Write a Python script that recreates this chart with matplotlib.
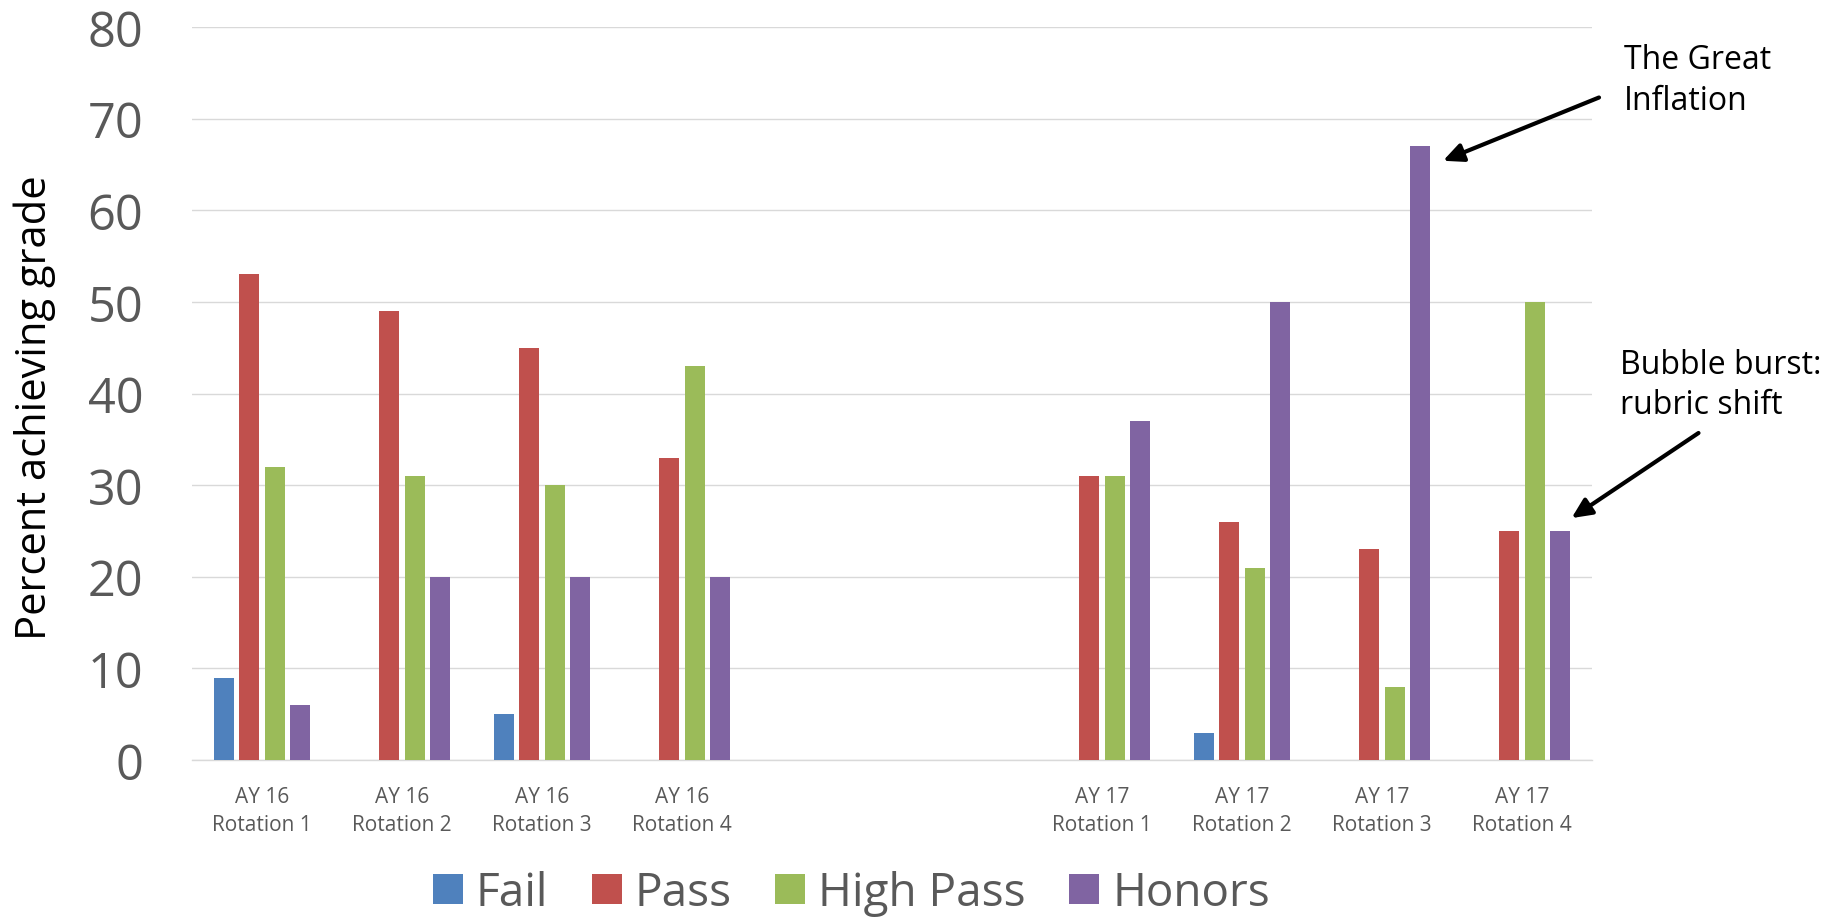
import numpy as np
import matplotlib
matplotlib.use("Agg")
import matplotlib.pyplot as plt
from matplotlib.patches import Patch

plt.rcParams['font.family'] = ['Open Sans', 'DejaVu Sans']

categories = ["AY 16\nRotation 1", "AY 16\nRotation 2", "AY 16\nRotation 3", "AY 16\nRotation 4",
              "", "",
              "AY 17\nRotation 1", "AY 17\nRotation 2", "AY 17\nRotation 3", "AY 17\nRotation 4"]
series_names = ["Fail", "Pass", "High Pass", "Honors"]
fail      = [9, 0, 5, 0, 0, 0, 0, 3, 0, 0]
pass_     = [53, 49, 45, 33, 0, 0, 31, 26, 23, 25]
high_pass = [32, 31, 30, 43, 0, 0, 31, 21, 8, 50]
honors    = [6, 20, 20, 20, 0, 0, 37, 50, 67, 25]
colors = ["#4F81BD", "#C0504D", "#9BBB59", "#8064A2"]
yticks = [0, 10, 20, 30, 40, 50, 60, 70, 80]

fig = plt.figure(figsize=(18.47, 9.2), dpi=100)
ax = fig.add_axes([192/1847, 1-761/920, 1400/1847, 733/920])

x = np.arange(len(categories))
slot = 0.1807
bw = 0.141
for i, (vals, c, name) in enumerate(zip([fail, pass_, high_pass, honors], colors, series_names)):
    ax.bar(x + (i - 1.5) * slot, vals, width=bw, color=c, label=name, linewidth=0, zorder=3)

ax.set_xlim(-0.5, len(categories) - 0.5)
ax.set_ylim(0, 80)
ax.set_yticks(yticks)
ax.set_xticks(x)
ax.set_xticklabels(categories, fontsize=15, color="#595959", linespacing=1.4)
ax.tick_params(axis='x', length=0, pad=19)
ax.tick_params(axis='y', length=0, pad=35, labelsize=35, labelcolor="#595959")
ax.grid(axis='y', color="#D9D9D9", linewidth=1.0, zorder=0)
for s in ["left", "right", "top"]:
    ax.spines[s].set_visible(False)
ax.spines["bottom"].set_color("#D9D9D9")
ax.spines["bottom"].set_linewidth(1.0)

ax.set_ylabel("Percent achieving grade", fontsize=30, color="black")
ax.yaxis.set_label_coords(-0.097, 0.482)

handles = [Patch(facecolor=c, edgecolor='none') for c in colors]
leg = fig.legend(handles, series_names, loc="center left", bbox_to_anchor=(433/1847, 1-894/920),
                 ncol=4, frameon=False, fontsize=33, handlelength=0.655, handleheight=0.655,
                 handletextpad=0.28, columnspacing=0.95, borderaxespad=0, borderpad=0)
for t in leg.get_texts():
    t.set_color("#595959")

arrowprops = dict(arrowstyle="-|>,head_length=0.6,head_width=0.28", color="black", lw=3,
                  shrinkA=0, shrinkB=0, mutation_scale=20)
# The Great Inflation -> AY17 Rotation 3 Honors
i3 = 8
ax.annotate("", xy=(i3 + 0.436, honors[i3] - 1.6), xycoords='data',
            xytext=(1599/1847, 1-98.5/920), textcoords='figure fraction',
            arrowprops=arrowprops, annotation_clip=False)
fig.text(1624/1847, 1-44/920, "The Great\nInflation", fontsize=23, color="black",
         ha="left", va="top", linespacing=1.3)
# Bubble burst -> AY17 Rotation 4 Honors
i4 = 9
ax.annotate("", xy=(i4 + 0.354, honors[i4] + 1.4), xycoords='data',
            xytext=(1698.5/1847, 1-434/920), textcoords='figure fraction',
            arrowprops=arrowprops, annotation_clip=False)
fig.text(1620/1847, 1-349/920, "Bubble burst:\nrubric shift", fontsize=23, color="black",
         ha="left", va="top", linespacing=1.3)

fig.savefig("out.png", dpi=100)
